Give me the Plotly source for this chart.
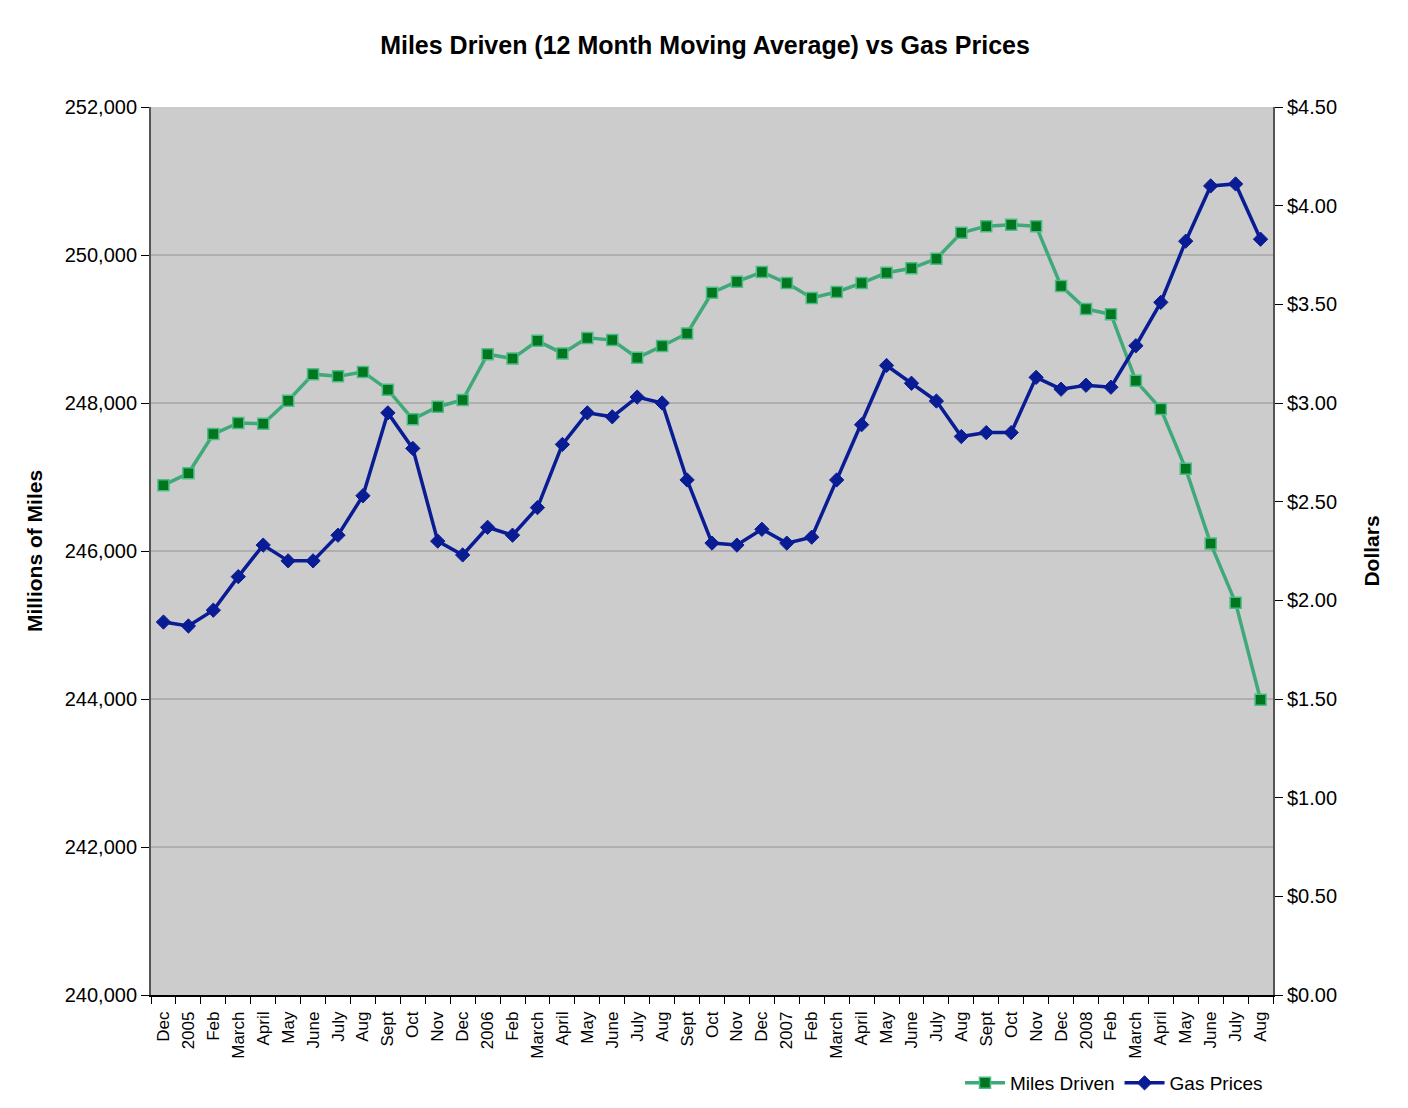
import plotly.graph_objects as go

month_labels = ["Dec", "2005", "Feb", "March", "April", "May", "June", "July", "Aug", "Sept", "Oct", "Nov",
                "Dec", "2006", "Feb", "March", "April", "May", "June", "July", "Aug", "Sept", "Oct", "Nov",
                "Dec", "2007", "Feb", "March", "April", "May", "June", "July", "Aug", "Sept", "Oct", "Nov",
                "Dec", "2008", "Feb", "March", "April", "May", "June", "July", "Aug"]

miles_driven = [246890, 247050, 247580, 247730, 247720, 248030, 248390, 248360, 248420, 248180,
                247780, 247950, 248040, 248660, 248600, 248840, 248670, 248880, 248850, 248610,
                248770, 248940, 249490, 249640, 249770, 249620, 249420, 249500, 249620, 249760,
                249820, 249950, 250300, 250390, 250410, 250390, 249580, 249270, 249200, 248300,
                247920, 247110, 246100, 245300, 243990]

gas_prices = [1.89, 1.87, 1.95, 2.12, 2.28, 2.20, 2.20, 2.33, 2.53, 2.95,
              2.77, 2.30, 2.23, 2.37, 2.33, 2.47, 2.79, 2.95, 2.93, 3.03,
              3.00, 2.61, 2.29, 2.28, 2.36, 2.29, 2.32, 2.61, 2.89, 3.19,
              3.10, 3.01, 2.83, 2.85, 2.85, 3.13, 3.07, 3.09, 3.08, 3.29,
              3.51, 3.82, 4.10, 4.11, 3.83]

x = list(range(len(month_labels)))
FONT = "Liberation Sans, Arial, sans-serif"
W, H = 1400, 1100

fig = go.Figure()
fig.add_trace(go.Scatter(
    x=x, y=miles_driven, name="Miles Driven", mode="lines+markers",
    line=dict(color="#3fa97a", width=3.5),
    marker=dict(symbol="square", size=11, color="#00761f", line=dict(color="#4dbb85", width=1.5)),
    yaxis="y"))
fig.add_trace(go.Scatter(
    x=x, y=gas_prices, name="Gas Prices", mode="lines+markers",
    line=dict(color="#0a1c94", width=3.5),
    marker=dict(symbol="diamond", size=11, color="#0a1c94", line=dict(color="#0a1c94", width=1)),
    yaxis="y2"))

fig.update_layout(
    width=W, height=H,
    margin=dict(l=143, r=135, t=99, b=113, autoexpand=False),
    paper_bgcolor="white", plot_bgcolor="#cccccc",
    font=dict(family=FONT, color="black", size=16),
    title=dict(text="<b>Miles Driven (12 Month Moving Average) vs Gas Prices</b>",
               x=(705 - 8) / W, xanchor="center", y=1 - 37 / H, yanchor="middle",
               font=dict(size=25, family=FONT, color="black")),
    xaxis=dict(
        range=[-0.5, len(month_labels) - 0.5],
        tickmode="array", tickvals=x, ticktext=month_labels,
        tickangle=-90, tickfont=dict(size=17), ticklabelstandoff=8,
        ticks="", showgrid=False, zeroline=False,
        showline=True, linecolor="black", linewidth=1.5,
        minor=dict(tick0=-0.5, dtick=1, ticks="outside", ticklen=7, tickcolor="black", showgrid=False),
    ),
    yaxis=dict(
        range=[240000, 252000], dtick=2000, tickformat=",",
        tickfont=dict(size=20),
        title=dict(text="<b>Millions of Miles</b>", font=dict(size=21), standoff=16),
        showline=True, linecolor="#555555", linewidth=2,
        ticks="outside", ticklen=8, tickcolor="black",
        showgrid=True, gridcolor="#afafaf", gridwidth=1.5, zeroline=False,
    ),
    yaxis2=dict(
        range=[0, 4.5], dtick=0.5, tickprefix="$", tickformat=".2f",
        tickfont=dict(size=20),
        title=dict(text="<b>Dollars</b>", font=dict(size=21), standoff=28),
        overlaying="y", side="right",
        showline=True, linecolor="#555555", linewidth=2,
        ticks="outside", ticklen=8, tickcolor="black",
        showgrid=False, zeroline=False,
    ),
    legend=dict(orientation="h", x=(1268 - 8) / W, xanchor="right", xref="container",
                y=(H - (1083 - 8)) / H, yanchor="middle", yref="container",
                itemwidth=40, font=dict(size=19), bgcolor="rgba(0,0,0,0)"),
    showlegend=True,
)

fig.write_html("out.html")
